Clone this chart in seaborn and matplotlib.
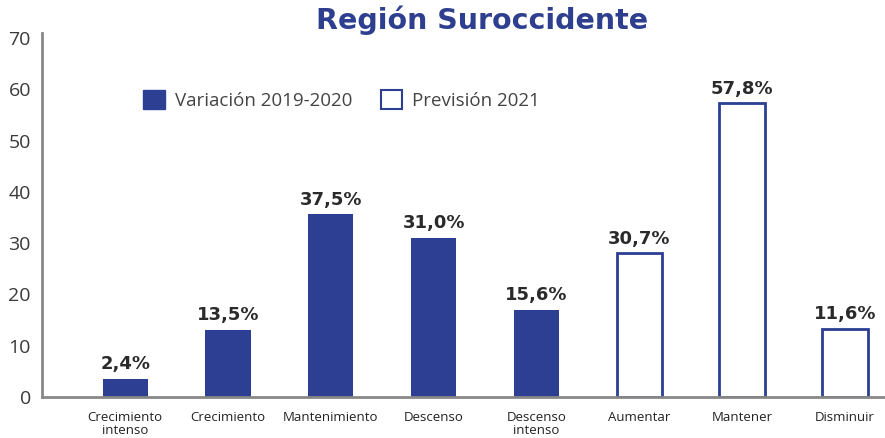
import matplotlib
matplotlib.use("Agg")
import matplotlib.pyplot as plt
from matplotlib.patches import Patch
import pandas as pd
import seaborn as sns

# datos
categorias = ["Crecimiento\nintenso", "Crecimiento", "Mantenimiento", "Descenso",
              "Descenso\nintenso", "Aumentar", "Mantener", "Disminuir"]
series = ["Variación 2019-2020"] * 5 + ["Previsión 2021"] * 3
# altura de las barras tal como se ven en el grafico
alturas = [3.5, 13.1, 35.6, 31.1, 17.0, 28.0, 57.3, 13.3]
# etiquetas que trae el grafico encima de cada barra
etiquetas = ["2,4%", "13,5%", "37,5%", "31,0%", "15,6%", "30,7%", "57,8%", "11,6%"]

azul = "#2c3f92"
gris_txt = "#444444"

df = pd.DataFrame({"cat": categorias, "serie": series, "valor": alturas})

sns.set_style("white")
plt.rcParams["font.family"] = ["Open Sans", "DejaVu Sans"]

fig = plt.figure(figsize=(8.85, 4.38), dpi=100)
ax = fig.add_axes([42 / 885, 1 - 397 / 438, 1 - 42 / 885, (397 - 33) / 438])

var = df[df["serie"] == "Variación 2019-2020"]
prev = df[df["serie"] == "Previsión 2021"]
sns.barplot(data=var, x="cat", y="valor", order=categorias, color=azul,
            width=0.44, ax=ax, saturation=1, linewidth=0)
sns.barplot(data=prev, x="cat", y="valor", order=categorias, color=azul,
            width=0.44, ax=ax, saturation=1, fill=False, linewidth=2)

# etiquetas encima de las barras
for i, (h, t) in enumerate(zip(alturas, etiquetas)):
    ax.text(i, h + 1.1, t, ha="center", va="bottom", fontsize=13,
            fontweight="bold", color="#2a2a2a", family="DejaVu Sans")

ax.set_xlim(-0.81, 7.39)
ax.set_ylim(0, 71)
ax.set_yticks(range(0, 71, 10))
ax.set_xlabel("")
ax.set_ylabel("")
ax.tick_params(axis="y", labelsize=14, colors="#3a3a3a", length=0, pad=8)
ax.tick_params(axis="x", labelsize=9.5, colors="#222222", length=0, pad=10)
for lab in ax.get_xticklabels():
    lab.set_linespacing(1.0)

for s in ["top", "right"]:
    ax.spines[s].set_visible(False)
for s in ["left", "bottom"]:
    ax.spines[s].set_color("#888888")
    ax.spines[s].set_linewidth(2)

# leyenda
handles = [Patch(facecolor=azul, edgecolor=azul, label="Variación 2019-2020"),
           Patch(facecolor="white", edgecolor=azul, linewidth=1.5, label="Previsión 2021")]
leg = ax.legend(handles=handles, loc="upper left", bbox_to_anchor=(0.1, 0.89),
                ncol=2, frameon=False, fontsize=13.5, handlelength=1.15, handleheight=1.15,
                columnspacing=1.5, handletextpad=0.55)
for t in leg.get_texts():
    t.set_color(gris_txt)

fig.text(482 / 885, 1 - 20 / 438, "Región Suroccidente", ha="center", va="center",
         fontsize=20.5, fontweight="bold", color="#2e3f8f", family="DejaVu Sans")

fig.savefig("out.png", dpi=100)
